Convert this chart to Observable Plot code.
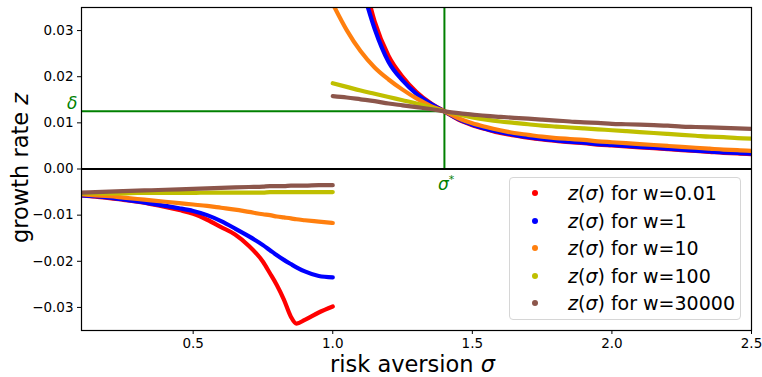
<!DOCTYPE html>
<html><head><meta charset="utf-8">
<script src="https://cdn.jsdelivr.net/npm/d3@7"></script>
<script src="https://cdn.jsdelivr.net/npm/@observablehq/plot@0.6"></script>
<style>
body{margin:0;background:#fff;}
#wrap{position:relative;width:762px;height:377px;font-family:"DejaVu Sans",sans-serif;color:#000;overflow:hidden;}
#wrap svg text{font-size:13.5px !important;font-family:"DejaVu Sans",sans-serif !important;fill:#000;}
#legend{position:absolute;left:509px;top:177px;width:232px;height:143px;border:1px solid #d6d6d6;border-radius:4px;background:rgba(255,255,255,0.8);box-sizing:border-box;}
.item{position:absolute;left:0;height:22px;font-size:19px;line-height:22px;white-space:nowrap;}
.item .dot{position:absolute;left:22px;top:8px;width:6px;height:6px;border-radius:50%;}
.item .txt{position:absolute;left:58px;top:0;}
.lab{position:absolute;font-size:22.5px;white-space:nowrap;line-height:1;}
.ann{position:absolute;color:green;font-size:17px;font-style:italic;line-height:1;}
</style></head><body><div id="wrap"></div>
<script>
// ---- data ----
const seriesNames = ["w=0.01", "w=1", "w=10", "w=100", "w=30000"];
const seriesColors = ["#ff0000", "#0000ff", "#ff7f0e", "#bfbf00", "#8c564b"];
const sigmaLeft = [0.1,0.15,0.2,0.25,0.3,0.35,0.4,0.45,0.5,0.55,0.6,0.65,0.7,0.75,0.775,0.8,0.825,0.85,0.87,0.9,0.95,1.0];
const sigmaRight = [1.0,1.05,1.1,1.15,1.2,1.25,1.3,1.35,1.4,1.45,1.5,1.55,1.6,1.65,1.7,1.75,1.8,1.85,1.9,1.95,2.0,2.05,2.1,2.15,2.2,2.25,2.3,2.35,2.4,2.45,2.5];
const zLeft001 = [-0.0057,-0.0060,-0.0063,-0.0067,-0.0071,-0.0076,-0.0082,-0.0089,-0.0097,-0.0110,-0.0126,-0.0142,-0.0167,-0.0201,-0.0226,-0.0252,-0.0283,-0.0320,-0.0335,-0.0327,-0.0311,-0.0298];
const zLeft1   = [-0.0057,-0.0059,-0.0062,-0.0066,-0.0070,-0.0075,-0.0080,-0.0085,-0.0091,-0.0100,-0.0113,-0.0129,-0.0146,-0.0165,-0.0176,-0.0187,-0.0197,-0.0206,-0.0213,-0.0222,-0.0232,-0.0235];
const zLeft10  = [-0.0055,-0.0057,-0.0059,-0.0062,-0.0065,-0.0068,-0.0071,-0.0074,-0.0077,-0.0080,-0.0084,-0.0088,-0.0093,-0.0098,-0.0100,-0.0103,-0.0105,-0.0107,-0.0109,-0.0111,-0.0114,-0.0117];
const zLeft100 = [-0.0053,-0.0053,-0.0053,-0.0053,-0.0052,-0.0052,-0.0052,-0.0052,-0.0052,-0.0051,-0.0051,-0.0051,-0.0051,-0.0051,-0.0050,-0.0050,-0.0050,-0.0050,-0.0050,-0.0050,-0.0050,-0.0050];
const zLeft30000 = [-0.0051,-0.0050,-0.0049,-0.0048,-0.0047,-0.0046,-0.0045,-0.0044,-0.0043,-0.0042,-0.0041,-0.0040,-0.0039,-0.0038,-0.0037,-0.0037,-0.0037,-0.0036,-0.0036,-0.0036,-0.0035,-0.0035];
const zRight001 = [null,null,0.0440,0.0320,0.0245,0.0200,0.0167,0.0143,0.0125,0.0107,0.0095,0.0086,0.0078,0.0073,0.0068,0.0064,0.0061,0.0058,0.0056,0.0053,0.0051,0.0049,0.0047,0.0045,0.0043,0.0041,0.0039,0.0037,0.0035,0.0034,0.0032];
const zRight1   = [null,null,0.0405,0.0304,0.0232,0.0192,0.0163,0.0142,0.0125,0.0108,0.0096,0.0087,0.0080,0.0074,0.0069,0.0065,0.0062,0.0059,0.0057,0.0054,0.0052,0.0050,0.0048,0.0046,0.0044,0.0042,0.0040,0.0038,0.0036,0.0035,0.0033];
const zRight10  = [0.0358,0.0301,0.0255,0.0220,0.0194,0.0172,0.0153,0.0137,0.0125,0.0110,0.0099,0.0091,0.0084,0.0078,0.0074,0.0070,0.0067,0.0065,0.0063,0.0060,0.0058,0.0056,0.0054,0.0052,0.0050,0.0048,0.0046,0.0044,0.0042,0.0041,0.0039];
const zRight100 = [0.0186,0.0178,0.0170,0.0163,0.0156,0.0149,0.0142,0.0134,0.0125,0.0118,0.0112,0.0107,0.0103,0.0100,0.0097,0.0094,0.0092,0.0090,0.0088,0.0086,0.0084,0.0082,0.0080,0.0078,0.0076,0.0074,0.0072,0.0070,0.0069,0.0067,0.0066];
const zRight30000 = [0.0158,0.0155,0.0151,0.0147,0.0142,0.0138,0.0134,0.0130,0.0125,0.0121,0.0118,0.0115,0.0113,0.0111,0.0109,0.0107,0.0105,0.0103,0.0101,0.0100,0.0098,0.0097,0.0096,0.0095,0.0094,0.0092,0.0091,0.0090,0.0089,0.0088,0.0087];
const delta = 0.0125;
const sigmaStar = 1.4;
const xTicks = [0.5, 1.0, 1.5, 2.0, 2.5];
const yTicks = [-0.03, -0.02, -0.01, 0, 0.01, 0.02, 0.03];

// ---- build table ----
const lefts = [zLeft001, zLeft1, zLeft10, zLeft100, zLeft30000];
const rights = [zRight001, zRight1, zRight10, zRight100, zRight30000];
const rows = [];
seriesNames.forEach((name, i) => {
  lefts[i].forEach((v, j) => { if (v != null) rows.push({sigma: sigmaLeft[j], z: v, name, key: name + "|L"}); });
  rights[i].forEach((v, j) => { if (v != null) rows.push({sigma: sigmaRight[j], z: v, name, key: name + "|R"}); });
});

const chart = Plot.plot({
  width: 762, height: 377,
  marginLeft: 81, marginRight: 11, marginTop: 7, marginBottom: 47,
  style: {fontFamily: "DejaVu Sans, sans-serif", fontSize: "13.5px", color: "black", background: "transparent"},
  x: {domain: [0.1, 2.5], ticks: xTicks, tickFormat: d3.format(".1f"), label: null, tickSize: 4, tickPadding: 4},
  y: {domain: [-0.035, 0.035], ticks: yTicks, tickFormat: d => d3.format(".2f")(d).replace("-", "\u2212"), label: null, tickSize: 4, tickPadding: 4},
  color: {domain: seriesNames, range: seriesColors},
  marks: [
    Plot.ruleY([delta], {x1: 0.1, x2: sigmaStar, stroke: "green", strokeWidth: 2}),
    Plot.ruleX([sigmaStar], {y1: 0, y2: 0.035, stroke: "green", strokeWidth: 2}),
    Plot.line(rows, {x: "sigma", y: "z", z: "key", stroke: "name", strokeWidth: 4.2, curve: "monotone-x", clip: true}),
    Plot.ruleY([0], {stroke: "black", strokeWidth: 2}),
    Plot.frame({stroke: "black", strokeWidth: 1.2})
  ]
});
const wrap = document.getElementById("wrap");
wrap.appendChild(chart);

// annotations
const xs = chart.scale("x"), ys = chart.scale("y");
const dl = document.createElement("div");
dl.className = "ann"; dl.textContent = "\u03b4";
dl.style.left = (xs.apply(0.1) - 14) + "px"; dl.style.top = (ys.apply(delta) - 16) + "px";
wrap.appendChild(dl);
const ss = document.createElement("div");
ss.className = "ann"; ss.innerHTML = "\u03c3<sup style='font-size:11px;vertical-align:7px'>*</sup>";
ss.style.left = (xs.apply(sigmaStar) - 6) + "px"; ss.style.top = (ys.apply(0) + 5) + "px";
wrap.appendChild(ss);

// axis labels
const xl = document.createElement("div");
xl.className = "lab"; xl.innerHTML = "risk aversion <i>\u03c3</i>";
xl.style.left = "330px"; xl.style.top = "353px";
wrap.appendChild(xl);
const yl = document.createElement("div");
yl.className = "lab"; yl.innerHTML = "growth rate <i>z</i>";
yl.style.left = "9px"; yl.style.top = "168px";
yl.style.transformOrigin = "0 0"; yl.style.transform = "rotate(-90deg) translate(-50%, 0)";
wrap.appendChild(yl);

// legend
const lg = document.createElement("div");
lg.id = "legend";
seriesNames.forEach((name, i) => {
  const it = document.createElement("div");
  it.className = "item"; it.style.top = (4 + i * 27.6) + "px";
  it.innerHTML = `<span class="dot" style="background:${seriesColors[i]}"></span><span class="txt"><i>z</i>(<i>\u03c3</i>) for ${name}</span>`;
  lg.appendChild(it);
});
wrap.appendChild(lg);
</script></body></html>
